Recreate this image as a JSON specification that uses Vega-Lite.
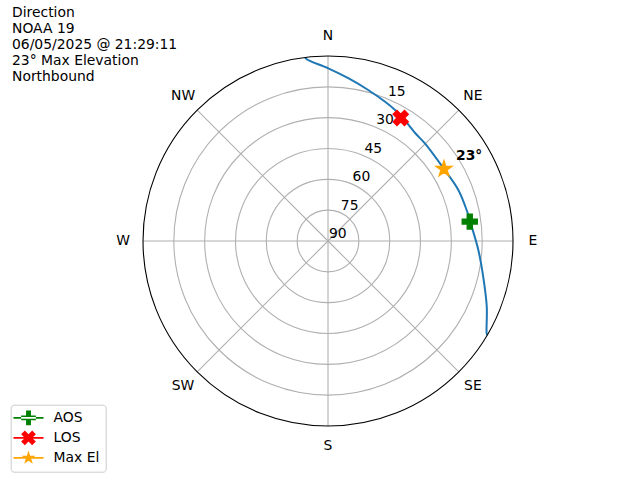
{
  "$schema": "https://vega.github.io/schema/vega-lite/v6.json",
  "width": 628,
  "height": 392,
  "autosize": {"type": "none"},
  "padding": {"left": 12, "top": 88, "right": 0, "bottom": 0},
  "background": "white",
  "title": {
    "text": ["Direction", "NOAA 19", "06/05/2025 @ 21:29:11", "23° Max Elevation", "Northbound"],
    "anchor": "start", "frame": "group", "orient": "top",
    "font": "DejaVu Sans", "fontSize": 13.9, "fontWeight": "normal", "color": "black",
    "lineHeight": 16, "offset": -55
  },
  "config": {
    "view": {"stroke": null},
    "text": {"font": "DejaVu Sans", "fontSize": 13.9, "color": "black"},
    "legend": {
      "orient": "none", "legendX": -1.3, "legendY": 316.7,
      "padding": 6.2, "rowPadding": 4, "symbolSize": 196, "symbolStrokeWidth": 0,
      "labelOffset": 22.6, "labelFont": "DejaVu Sans", "labelFontSize": 13.9, "labelColor": "black",
      "fillColor": "rgba(255,255,255,0.8)", "strokeColor": "#cccccc", "cornerRadius": 3,
      "symbolOpacity": 1
    }
  },
  "datasets": {
    "spokes": [{"az": 0}, {"az": 45}, {"az": 90}, {"az": 135}, {"az": 180}, {"az": 225}, {"az": 270}, {"az": 315}],
    "rings": [{"r": 15}, {"r": 30}, {"r": 45}, {"r": 60}, {"r": 75}],
    "outer": [{"r": 90}],
    "rlabels": [
      {"label": "90", "r": 0}, {"label": "75", "r": 15}, {"label": "60", "r": 30},
      {"label": "45", "r": 45}, {"label": "30", "r": 60}, {"label": "15", "r": 75}
    ],
    "dirs": [
      {"d": "N", "az": 0}, {"d": "NE", "az": 45}, {"d": "E", "az": 90}, {"d": "SE", "az": 135},
      {"d": "S", "az": 180}, {"d": "SW", "az": 225}, {"d": "W", "az": 270}, {"d": "NW", "az": 315}
    ],
    "pass": [
      {"i": 0, "az": 352.9, "el": 0},
      {"i": 1, "az": 353.3, "el": 1.0},
      {"i": 2, "az": 0.1, "el": 6.0},
      {"i": 3, "az": 7.1, "el": 10.2},
      {"i": 4, "az": 14.9, "el": 14.0},
      {"i": 5, "az": 22.3, "el": 16.8},
      {"i": 6, "az": 27.1, "el": 18.4},
      {"i": 7, "az": 30.7, "el": 19.7},
      {"i": 8, "az": 38.9, "el": 22.5},
      {"i": 9, "az": 44.8, "el": 23.1},
      {"i": 10, "az": 58.0, "el": 23.6},
      {"i": 11, "az": 68.6, "el": 21.9},
      {"i": 12, "az": 77.4, "el": 20.9},
      {"i": 13, "az": 84.3, "el": 19.75},
      {"i": 14, "az": 93.4, "el": 16.75},
      {"i": 15, "az": 103.0, "el": 12.5},
      {"i": 16, "az": 112.5, "el": 6.4},
      {"i": 17, "az": 120.2, "el": 0.7},
      {"i": 18, "az": 120.6, "el": 0}
    ],
    "markers": [
      {"name": "AOS", "az": 82.2, "el": 20.4, "label": ""},
      {"name": "LOS", "az": 30.6, "el": 20.5, "label": ""},
      {"name": "Max El", "az": 58.2, "el": 23.6, "label": "23°"}
    ]
  },
  "layer": [
    {
      "data": {"name": "spokes"},
      "transform": [
        {"calculate": "0", "as": "cx"},
        {"calculate": "0", "as": "cy"},
        {"calculate": "90 * sin(datum.az * PI / 180)", "as": "ex"},
        {"calculate": "90 * cos(datum.az * PI / 180)", "as": "ey"}
      ],
      "mark": {"type": "rule", "stroke": "#b0b0b0", "strokeWidth": 1.1},
      "encoding": {
        "x": {"field": "cx", "type": "quantitative", "scale": {"domain": [-153.73, 151.78], "nice": false, "zero": false}, "axis": null},
        "y": {"field": "cy", "type": "quantitative", "scale": {"domain": [-116.27, 74.43], "nice": false, "zero": false}, "axis": null},
        "x2": {"field": "ex"},
        "y2": {"field": "ey"}
      }
    },
    {
      "data": {"name": "rings"},
      "transform": [
        {"calculate": "0", "as": "cx"},
        {"calculate": "0", "as": "cy"}
      ],
      "mark": {"type": "point", "shape": "circle", "filled": false, "stroke": "#b0b0b0", "strokeWidth": 1.1, "opacity": 1},
      "encoding": {
        "x": {"field": "cx", "type": "quantitative"},
        "y": {"field": "cy", "type": "quantitative"},
        "size": {"field": "r", "type": "quantitative", "scale": {"type": "pow", "exponent": 2, "domain": [0, 90], "range": [0, 136900], "zero": true}, "legend": null}
      }
    },
    {
      "data": {"name": "rlabels"},
      "transform": [
        {"calculate": "datum.r * sin(22.5 * PI / 180)", "as": "lx"},
        {"calculate": "datum.r * cos(22.5 * PI / 180)", "as": "ly"}
      ],
      "mark": {"type": "text", "align": "left", "baseline": "bottom", "dx": 1},
      "encoding": {
        "x": {"field": "lx", "type": "quantitative"},
        "y": {"field": "ly", "type": "quantitative"},
        "text": {"field": "label"}
      }
    },
    {
      "data": {"name": "dirs"},
      "transform": [
        {"calculate": "99.7 * sin(datum.az * PI / 180)", "as": "lx"},
        {"calculate": "99.7 * cos(datum.az * PI / 180)", "as": "ly"}
      ],
      "mark": {"type": "text", "align": "center", "baseline": "middle"},
      "encoding": {
        "x": {"field": "lx", "type": "quantitative"},
        "y": {"field": "ly", "type": "quantitative"},
        "text": {"field": "d"}
      }
    },
    {
      "data": {"name": "pass"},
      "transform": [
        {"calculate": "(90 - datum.el) * sin(datum.az * PI / 180)", "as": "px"},
        {"calculate": "(90 - datum.el) * cos(datum.az * PI / 180)", "as": "py"}
      ],
      "mark": {"type": "line", "color": "#1f77b4", "strokeWidth": 2, "interpolate": "catmull-rom"},
      "encoding": {
        "x": {"field": "px", "type": "quantitative"},
        "y": {"field": "py", "type": "quantitative"},
        "order": {"field": "i", "type": "quantitative"}
      }
    },
    {
      "data": {"name": "outer"},
      "transform": [
        {"calculate": "0", "as": "cx"},
        {"calculate": "0", "as": "cy"}
      ],
      "mark": {"type": "point", "shape": "circle", "filled": false, "stroke": "black", "strokeWidth": 1.1, "opacity": 1},
      "encoding": {
        "x": {"field": "cx", "type": "quantitative"},
        "y": {"field": "cy", "type": "quantitative"},
        "size": {"field": "r", "type": "quantitative", "legend": null}
      }
    },
    {
      "data": {"name": "markers"},
      "transform": [
        {"filter": "datum.name === 'AOS'"},
        {"calculate": "(90 - datum.el) * sin(datum.az * PI / 180)", "as": "px"},
        {"calculate": "(90 - datum.el) * cos(datum.az * PI / 180)", "as": "py"}
      ],
      "mark": {"type": "point", "filled": true, "fill": "#008000", "stroke": "#008000", "strokeWidth": 1.4, "opacity": 1, "size": 225,
        "shape": "M-0.333,-1L-0.333,-0.333L-1,-0.333L-1,0.333L-0.333,0.333L-0.333,1L0.333,1L0.333,0.333L1,0.333L1,-0.333L0.333,-0.333L0.333,-1Z"},
      "encoding": {
        "x": {"field": "px", "type": "quantitative"},
        "y": {"field": "py", "type": "quantitative"}
      }
    },
    {
      "data": {"name": "markers"},
      "transform": [
        {"filter": "datum.name === 'LOS'"},
        {"calculate": "(90 - datum.el) * sin(datum.az * PI / 180)", "as": "px"},
        {"calculate": "(90 - datum.el) * cos(datum.az * PI / 180)", "as": "py"}
      ],
      "mark": {"type": "point", "filled": true, "fill": "#ff0000", "stroke": "#ff0000", "strokeWidth": 1.4, "opacity": 1, "size": 225,
        "shape": "M-0.5,-1L0,-0.5L0.5,-1L1,-0.5L0.5,0L1,0.5L0.5,1L0,0.5L-0.5,1L-1,0.5L-0.5,0L-1,-0.5Z"},
      "encoding": {
        "x": {"field": "px", "type": "quantitative"},
        "y": {"field": "py", "type": "quantitative"}
      }
    },
    {
      "data": {"name": "markers"},
      "transform": [
        {"filter": "datum.name === 'Max El'"},
        {"calculate": "(90 - datum.el) * sin(datum.az * PI / 180)", "as": "px"},
        {"calculate": "(90 - datum.el) * cos(datum.az * PI / 180)", "as": "py"}
      ],
      "mark": {"type": "point", "filled": true, "fill": "#ffa500", "stroke": "#ffa500", "strokeWidth": 1.4, "opacity": 1, "size": 269,
        "shape": "M0,-1L0.2245,-0.309L0.9511,-0.309L0.3633,0.118L0.5878,0.809L0,0.382L-0.5878,0.809L-0.3633,0.118L-0.9511,-0.309L-0.2245,-0.309Z"},
      "encoding": {
        "x": {"field": "px", "type": "quantitative"},
        "y": {"field": "py", "type": "quantitative"}
      }
    },
    {
      "data": {"name": "markers"},
      "transform": [
        {"filter": "datum.name === 'Max El'"},
        {"calculate": "(90 - datum.el) * sin(datum.az * PI / 180)", "as": "px"},
        {"calculate": "(90 - datum.el) * cos(datum.az * PI / 180)", "as": "py"}
      ],
      "mark": {"type": "text", "align": "left", "baseline": "alphabetic", "dx": 12, "dy": -9, "fontWeight": "bold"},
      "encoding": {
        "x": {"field": "px", "type": "quantitative"},
        "y": {"field": "py", "type": "quantitative"},
        "text": {"field": "label"}
      }
    },
    {
      "data": {"name": "markers"},
      "transform": [
        {"calculate": "(90 - datum.el) * sin(datum.az * PI / 180)", "as": "px"},
        {"calculate": "(90 - datum.el) * cos(datum.az * PI / 180)", "as": "py"}
      ],
      "mark": {"type": "point", "filled": true, "opacity": 0},
      "encoding": {
        "x": {"field": "px", "type": "quantitative"},
        "y": {"field": "py", "type": "quantitative"},
        "color": {"field": "name", "type": "nominal", "scale": {"domain": ["AOS", "LOS", "Max El"], "range": ["#008000", "#ff0000", "#ffa500"]}, "legend": {"title": null}},
        "shape": {"field": "name", "type": "nominal", "scale": {"domain": ["AOS", "LOS", "Max El"], "range": [
          "M-1.486,-0.114L2.8,-0.114L2.8,0.114L-1.486,0.114Z M0.307,-1.05L0.307,-0.35L-0.393,-0.35L-0.393,0.35L0.307,0.35L0.307,1.05L1.007,1.05L1.007,0.35L1.707,0.35L1.707,-0.35L1.007,-0.35L1.007,-1.05Z",
          "M-1.486,-0.114L2.8,-0.114L2.8,0.114L-1.486,0.114Z M0.132,-1.05L0.657,-0.525L1.182,-1.05L1.707,-0.525L1.182,0L1.707,0.525L1.182,1.05L0.657,0.525L0.132,1.05L-0.393,0.525L0.132,0L-0.393,-0.525Z",
          "M-1.486,-0.114L2.8,-0.114L2.8,0.114L-1.486,0.114Z M0.657,-1.05L0.893,-0.324L1.656,-0.324L1.038,0.124L1.274,0.849L0.657,0.401L0.04,0.849L0.276,0.124L-0.342,-0.324L0.421,-0.324Z"
        ]}, "legend": {"title": null}}
      }
    }
  ]
}
